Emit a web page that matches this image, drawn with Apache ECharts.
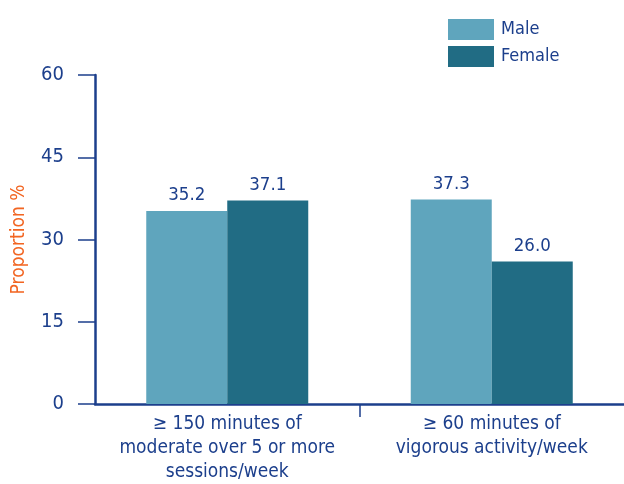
<!DOCTYPE html>
<html>
<head>
<meta charset="utf-8">
<script src="https://cdn.jsdelivr.net/npm/echarts@6/dist/echarts.min.js"></script>
<style>html,body{margin:0;padding:0;background:#fff}#c{width:624px;height:484px}</style>
</head>
<body>
<div id="c"></div>
<script>
var categories = ['\u2265 150 minutes of\nmoderate over 5 or more\nsessions/week', '\u2265 60 minutes of\nvigorous activity/week'];
var male = [35.2, 37.3];
var female = [37.1, 26.0];
var yTicks = [0, 15, 30, 45, 60];

var FONT = "'Liberation Sans Narrow', 'DejaVu Sans Condensed', 'Roboto Condensed', sans-serif";
var BLUE = '#1c3f8c';
var chart = echarts.init(document.getElementById('c'), null, {renderer: 'canvas'});
chart.setOption({
  animation: false,
  textStyle: {fontFamily: FONT},
  legend: {
    orient: 'vertical', left: 443, top: 14,
    itemWidth: 46, itemHeight: 21, itemGap: 6,
    icon: 'rect',
    textStyle: {color: BLUE, fontSize: 18, fontFamily: FONT, padding: [0, 0, 0, 2]},
    data: ['Male', 'Female']
  },
  grid: {left: 95, right: 0, top: 75, bottom: 76},
  xAxis: [{
    type: 'category', data: categories,
    axisLine: {lineStyle: {color: BLUE, width: 2.5}},
    axisTick: {show: false},
    axisLabel: {color: BLUE, fontSize: 19, lineHeight: 24, fontFamily: FONT, margin: 8, interval: 0}
  }, {
    type: 'value', position: 'bottom', min: 0, max: categories.length,
    axisLine: {show: false},
    axisTick: {show: true, length: 13, customValues: [1], lineStyle: {color: BLUE, width: 1.5}},
    axisLabel: {show: false},
    splitLine: {show: false}
  }],
  yAxis: {
    type: 'value', min: 0, max: 60, interval: 15,
    name: 'Proportion %', nameLocation: 'middle', nameGap: 66,
    nameTextStyle: {color: '#f26522', fontSize: 19, fontFamily: FONT},
    axisLine: {show: true, lineStyle: {color: BLUE, width: 2.5}},
    axisTick: {show: true, length: 17, lineStyle: {color: BLUE, width: 1.5}},
    axisLabel: {color: BLUE, fontSize: 20, fontFamily: FONT, margin: 31,
      formatter: function (v) { return yTicks.indexOf(v) >= 0 ? String(v) : ''; }},
    splitLine: {show: false}
  },
  series: [
    {name: 'Male', type: 'bar', xAxisIndex: 0, data: male, barWidth: 81, barGap: '0%',
     itemStyle: {color: '#5fa5bd'},
     label: {show: true, position: 'top', distance: 6, color: BLUE, fontSize: 18.5, fontFamily: FONT,
       formatter: function (p) { return p.value.toFixed(1); }}},
    {name: 'Female', type: 'bar', xAxisIndex: 0, data: female, barWidth: 81,
     itemStyle: {color: '#216c84'},
     label: {show: true, position: 'top', distance: 6, color: BLUE, fontSize: 18.5, fontFamily: FONT,
       formatter: function (p) { return p.value.toFixed(1); }}}
  ]
});
</script>
</body>
</html>
